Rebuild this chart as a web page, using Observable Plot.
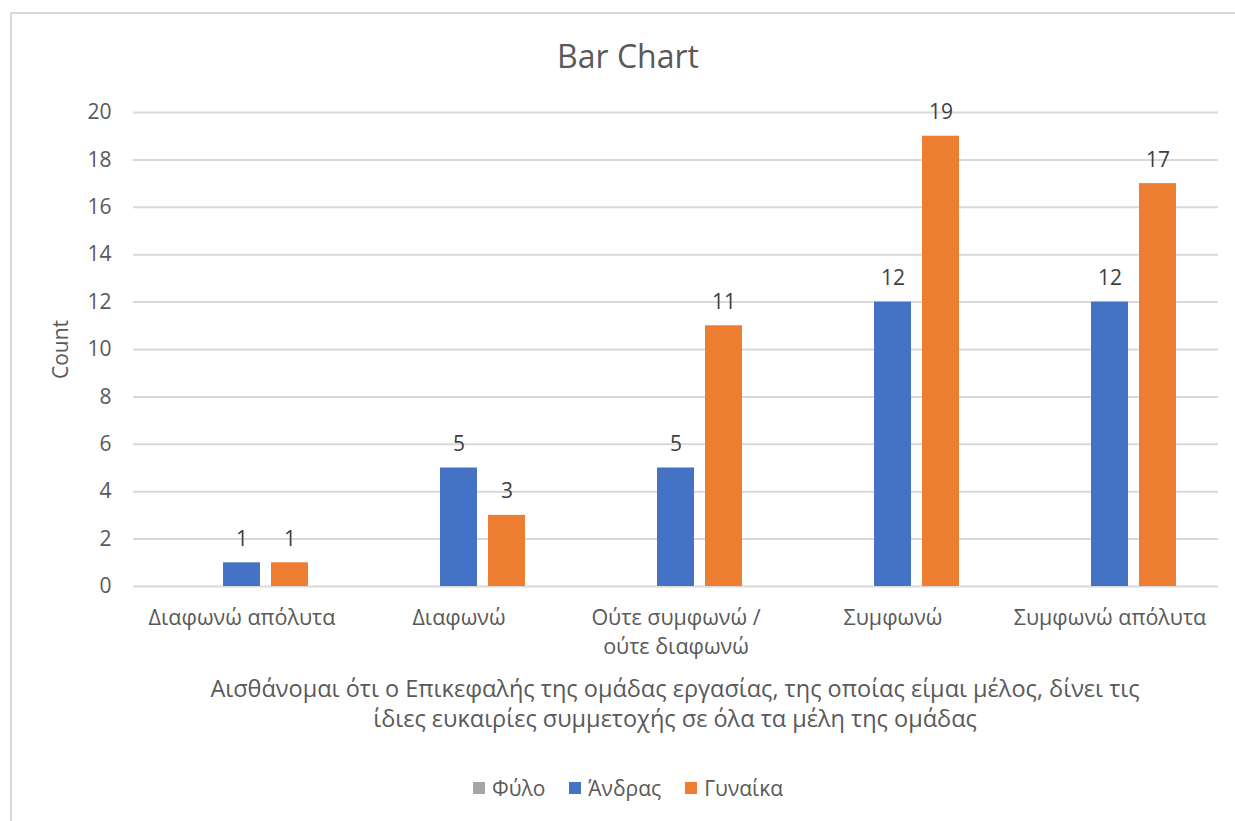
<!DOCTYPE html>
<html>
<head>
<meta charset="utf-8">
<script src="https://cdn.jsdelivr.net/npm/d3@7"></script>
<script src="https://cdn.jsdelivr.net/npm/@observablehq/plot@0.6"></script>
<style>
  html, body { margin: 0; padding: 0; background: #ffffff; }
  body { font-family: "Open Sans", "Noto Sans", sans-serif; color: #595959; }
  #chart { position: relative; width: 1235px; height: 821px; overflow: hidden; }
  #frame { position: absolute; left: 10px; top: 12px; width: 1240px; height: 820px;
           border-left: 2px solid #d9d9d9; border-top: 2px solid #d9d9d9; box-sizing: border-box; }
  #title { position: absolute; left: 0; width: 1256px; top: 34px; text-align: center;
           font-size: 32px; line-height: 44px; color: #595959; }
  #plot { position: absolute; left: 0; top: 0; }
  #xtitle { position: absolute; left: 131px; width: 1088px; top: 673px; text-align: center;
            font-size: 23.5px; line-height: 30px; color: #595959; }
  #legend { position: absolute; left: 0; width: 1256px; top: 773px; display: flex;
            justify-content: center; gap: 24px; font-size: 21px; line-height: 30px; color: #595959; }
  #legend span.item { display: flex; align-items: center; gap: 7px; }
  #legend span.sw { width: 12px; height: 12px; display: inline-block; }
</style>
</head>
<body>
<div id="chart">
  <div id="frame"></div>
  <div id="title">Bar Chart</div>
  <div id="plot"></div>
  <div id="xtitle">Αισθάνομαι ότι ο Επικεφαλής της ομάδας εργασίας, της οποίας είμαι μέλος, δίνει τις<br>ίδιες ευκαιρίες συμμετοχής σε όλα τα μέλη της ομάδας</div>
  <div id="legend"></div>
</div>
<script>
// Response categories along the horizontal axis
const categories = [
  "Διαφωνώ απόλυτα",
  "Διαφωνώ",
  "Ούτε συμφωνώ / ούτε διαφωνώ",
  "Συμφωνώ",
  "Συμφωνώ απόλυτα"
];

// Series (the "Φύλο" series has no values and draws no bars)
const series = ["Φύλο", "Άνδρας", "Γυναίκα"];
const seriesColors = ["#a5a5a5", "#4472c4", "#ed7d31"];

// Counts per category
const fylo    = [null, null, null, null, null];
const andras  = [1, 5, 5, 12, 12];
const gynaika = [1, 3, 11, 19, 17];

const yTicks = [0, 2, 4, 6, 8, 10, 12, 14, 16, 18, 20];

const values = { "Φύλο": fylo, "Άνδρας": andras, "Γυναίκα": gynaika };
const rows = categories.flatMap((c, i) =>
  series.map(s => ({ cat: c, series: s, value: values[s][i] }))
).filter(d => d.value != null);

const chart = Plot.plot({
  width: 1235,
  height: 680,
  marginLeft: 131,
  marginRight: 16,
  marginTop: 112,
  marginBottom: 94,
  style: { fontFamily: "'Open Sans', 'Noto Sans', sans-serif", fontSize: "21px", color: "#595959", background: "transparent" },
  fx: { domain: categories, padding: 0, label: null },
  x: { domain: series, paddingInner: 0.22, paddingOuter: 0.843, axis: null },
  y: { domain: [0, 20], label: null },
  color: { domain: series, range: seriesColors },
  marks: [
    Plot.gridY(yTicks, { stroke: "#d9d9d9", strokeOpacity: 1, strokeWidth: 2 }),
    Plot.axisY(yTicks, {
      tickSize: 0, tickPadding: 22, fill: "#595959", fontSize: 21,
      label: "Count", labelAnchor: "center", labelArrow: "none", labelOffset: 80
    }),
    Plot.axisFx({
      anchor: "bottom", tickSize: 0, tickPadding: 17, fill: "#595959", fontSize: 21.5, lineHeight: 1.38,
      label: null, tickFormat: d => d.replace("/ ", "/\n")
    }),
    Plot.barY(rows, { fx: "cat", x: "series", y: "value", fill: "series" }),
    Plot.text(rows, {
      fx: "cat", x: "series", y: "value", text: "value",
      lineAnchor: "bottom", dy: -17, fill: "#404040", fontSize: 21
    })
  ]
});
document.getElementById("plot").appendChild(chart);

// Legend below the plot
const legend = document.getElementById("legend");
series.forEach((s, i) => {
  const item = document.createElement("span");
  item.className = "item";
  const sw = document.createElement("span");
  sw.className = "sw";
  sw.style.background = seriesColors[i];
  item.appendChild(sw);
  item.appendChild(document.createTextNode(s));
  legend.appendChild(item);
});
</script>
</body>
</html>
